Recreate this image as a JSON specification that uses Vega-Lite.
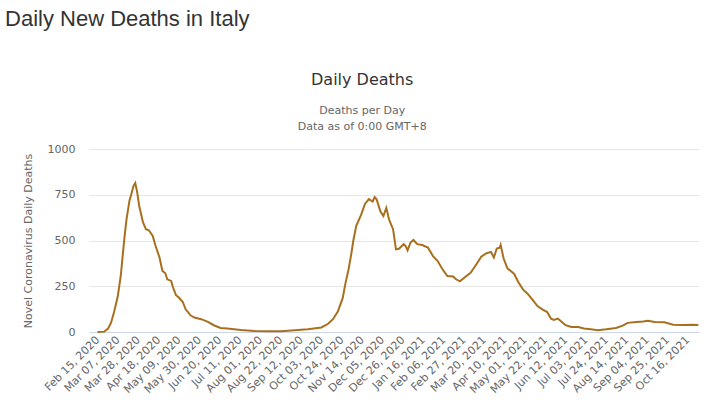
{
  "$schema": "https://vega.github.io/schema/vega-lite/v6.json",
  "background": "white",
  "padding": {"left": 5, "top": 8, "right": 20, "bottom": 5},
  "title": {"text": "Daily New Deaths in Italy", "anchor": "start", "frame": "bounds", "font": "Liberation Sans", "fontSize": 22, "fontWeight": "normal", "color": "#333333", "offset": 41, "dx": -17},
  "config": {"view": {"stroke": null}},
  "vconcat": [
    {
      "width": 610,
      "height": 183,
      "title": {"text": "Daily Deaths", "subtitle": ["Deaths per Day", "Data as of 0:00 GMT+8"], "anchor": "middle", "frame": "bounds", "font": "DejaVu Sans", "fontSize": 16, "fontWeight": "normal", "color": "#333333", "subtitleFont": "DejaVu Sans", "subtitleFontSize": 11, "subtitleColor": "#666666", "subtitlePadding": 17, "subtitleLineHeight": 16, "offset": 11},
      "data": {"values": [
        {"date": "2020-02-15", "deaths": 0},
        {"date": "2020-02-22", "deaths": 2},
        {"date": "2020-02-26", "deaths": 19},
        {"date": "2020-02-29", "deaths": 51},
        {"date": "2020-03-03", "deaths": 106},
        {"date": "2020-03-07", "deaths": 197},
        {"date": "2020-03-10", "deaths": 306},
        {"date": "2020-03-12", "deaths": 416},
        {"date": "2020-03-14", "deaths": 525},
        {"date": "2020-03-16", "deaths": 617},
        {"date": "2020-03-19", "deaths": 718},
        {"date": "2020-03-21", "deaths": 754},
        {"date": "2020-03-23", "deaths": 796},
        {"date": "2020-03-25", "deaths": 814},
        {"date": "2020-03-27", "deaths": 763},
        {"date": "2020-03-29", "deaths": 690},
        {"date": "2020-04-02", "deaths": 599},
        {"date": "2020-04-05", "deaths": 562},
        {"date": "2020-04-08", "deaths": 556},
        {"date": "2020-04-12", "deaths": 525},
        {"date": "2020-04-15", "deaths": 470},
        {"date": "2020-04-19", "deaths": 407},
        {"date": "2020-04-22", "deaths": 334},
        {"date": "2020-04-25", "deaths": 321},
        {"date": "2020-04-27", "deaths": 288},
        {"date": "2020-05-01", "deaths": 279},
        {"date": "2020-05-03", "deaths": 243},
        {"date": "2020-05-06", "deaths": 201},
        {"date": "2020-05-09", "deaths": 188},
        {"date": "2020-05-13", "deaths": 164},
        {"date": "2020-05-16", "deaths": 124},
        {"date": "2020-05-21", "deaths": 91},
        {"date": "2020-05-25", "deaths": 79},
        {"date": "2020-06-01", "deaths": 70},
        {"date": "2020-06-08", "deaths": 55},
        {"date": "2020-06-14", "deaths": 37},
        {"date": "2020-06-21", "deaths": 22},
        {"date": "2020-06-28", "deaths": 19},
        {"date": "2020-07-12", "deaths": 11},
        {"date": "2020-07-26", "deaths": 5},
        {"date": "2020-08-09", "deaths": 4},
        {"date": "2020-08-22", "deaths": 4},
        {"date": "2020-09-02", "deaths": 8},
        {"date": "2020-09-19", "deaths": 15},
        {"date": "2020-10-03", "deaths": 25},
        {"date": "2020-10-10", "deaths": 45},
        {"date": "2020-10-15", "deaths": 70},
        {"date": "2020-10-20", "deaths": 112},
        {"date": "2020-10-25", "deaths": 185},
        {"date": "2020-10-28", "deaths": 270},
        {"date": "2020-10-31", "deaths": 340},
        {"date": "2020-11-03", "deaths": 430},
        {"date": "2020-11-05", "deaths": 500},
        {"date": "2020-11-08", "deaths": 580},
        {"date": "2020-11-13", "deaths": 640},
        {"date": "2020-11-17", "deaths": 700},
        {"date": "2020-11-21", "deaths": 726},
        {"date": "2020-11-25", "deaths": 713},
        {"date": "2020-11-27", "deaths": 737},
        {"date": "2020-11-29", "deaths": 725},
        {"date": "2020-12-03", "deaths": 658},
        {"date": "2020-12-06", "deaths": 634},
        {"date": "2020-12-09", "deaths": 678},
        {"date": "2020-12-12", "deaths": 612},
        {"date": "2020-12-16", "deaths": 562},
        {"date": "2020-12-19", "deaths": 452},
        {"date": "2020-12-22", "deaths": 455},
        {"date": "2020-12-27", "deaths": 480},
        {"date": "2020-12-29", "deaths": 470},
        {"date": "2020-12-31", "deaths": 446},
        {"date": "2021-01-03", "deaths": 489},
        {"date": "2021-01-06", "deaths": 503},
        {"date": "2021-01-10", "deaths": 480},
        {"date": "2021-01-15", "deaths": 475},
        {"date": "2021-01-21", "deaths": 461},
        {"date": "2021-01-26", "deaths": 416},
        {"date": "2021-01-31", "deaths": 388},
        {"date": "2021-02-05", "deaths": 343},
        {"date": "2021-02-10", "deaths": 306},
        {"date": "2021-02-16", "deaths": 303},
        {"date": "2021-02-19", "deaths": 288},
        {"date": "2021-02-23", "deaths": 277},
        {"date": "2021-03-01", "deaths": 303},
        {"date": "2021-03-06", "deaths": 324},
        {"date": "2021-03-12", "deaths": 370},
        {"date": "2021-03-17", "deaths": 412},
        {"date": "2021-03-22", "deaths": 430},
        {"date": "2021-03-27", "deaths": 437},
        {"date": "2021-03-30", "deaths": 407},
        {"date": "2021-04-02", "deaths": 456},
        {"date": "2021-04-05", "deaths": 461},
        {"date": "2021-04-06", "deaths": 476},
        {"date": "2021-04-09", "deaths": 403},
        {"date": "2021-04-13", "deaths": 348},
        {"date": "2021-04-17", "deaths": 330},
        {"date": "2021-04-20", "deaths": 317},
        {"date": "2021-04-24", "deaths": 275},
        {"date": "2021-04-29", "deaths": 233},
        {"date": "2021-05-04", "deaths": 208},
        {"date": "2021-05-09", "deaths": 175},
        {"date": "2021-05-14", "deaths": 142},
        {"date": "2021-05-19", "deaths": 124},
        {"date": "2021-05-24", "deaths": 109},
        {"date": "2021-05-28", "deaths": 73},
        {"date": "2021-05-31", "deaths": 66},
        {"date": "2021-06-04", "deaths": 73},
        {"date": "2021-06-07", "deaths": 60},
        {"date": "2021-06-12", "deaths": 37},
        {"date": "2021-06-18", "deaths": 27},
        {"date": "2021-06-25", "deaths": 27},
        {"date": "2021-07-01", "deaths": 19},
        {"date": "2021-07-08", "deaths": 15},
        {"date": "2021-07-15", "deaths": 10},
        {"date": "2021-07-24", "deaths": 15},
        {"date": "2021-08-03", "deaths": 22},
        {"date": "2021-08-10", "deaths": 35},
        {"date": "2021-08-15", "deaths": 50},
        {"date": "2021-08-24", "deaths": 55},
        {"date": "2021-08-31", "deaths": 57},
        {"date": "2021-09-05", "deaths": 62},
        {"date": "2021-09-12", "deaths": 55},
        {"date": "2021-09-22", "deaths": 53},
        {"date": "2021-10-01", "deaths": 40},
        {"date": "2021-10-11", "deaths": 38},
        {"date": "2021-10-21", "deaths": 40},
        {"date": "2021-10-27", "deaths": 38}
      ]},
      "mark": {"type": "line", "color": "#a8701e", "strokeWidth": 2, "interpolate": "linear"},
      "encoding": {
        "x": {
          "field": "date", "type": "temporal",
          "scale": {"type": "utc", "domain": [{"year": 2020, "month": 2, "date": 6, "hours": 6, "utc": true}, {"year": 2021, "month": 10, "date": 27, "hours": 16, "utc": true}]},
          "axis": {
            "title": null, "grid": false, "ticks": false, "domain": true, "domainColor": "#ccd6eb",
            "values": [
              {"year": 2020, "month": 2, "date": 15, "utc": true}, {"year": 2020, "month": 3, "date": 7, "utc": true}, {"year": 2020, "month": 3, "date": 28, "utc": true},
              {"year": 2020, "month": 4, "date": 18, "utc": true}, {"year": 2020, "month": 5, "date": 9, "utc": true}, {"year": 2020, "month": 5, "date": 30, "utc": true},
              {"year": 2020, "month": 6, "date": 20, "utc": true}, {"year": 2020, "month": 7, "date": 11, "utc": true}, {"year": 2020, "month": 8, "date": 1, "utc": true},
              {"year": 2020, "month": 8, "date": 22, "utc": true}, {"year": 2020, "month": 9, "date": 12, "utc": true}, {"year": 2020, "month": 10, "date": 3, "utc": true},
              {"year": 2020, "month": 10, "date": 24, "utc": true}, {"year": 2020, "month": 11, "date": 14, "utc": true}, {"year": 2020, "month": 12, "date": 5, "utc": true},
              {"year": 2020, "month": 12, "date": 26, "utc": true}, {"year": 2021, "month": 1, "date": 16, "utc": true}, {"year": 2021, "month": 2, "date": 6, "utc": true},
              {"year": 2021, "month": 2, "date": 27, "utc": true}, {"year": 2021, "month": 3, "date": 20, "utc": true}, {"year": 2021, "month": 4, "date": 10, "utc": true},
              {"year": 2021, "month": 5, "date": 1, "utc": true}, {"year": 2021, "month": 5, "date": 22, "utc": true}, {"year": 2021, "month": 6, "date": 12, "utc": true},
              {"year": 2021, "month": 7, "date": 3, "utc": true}, {"year": 2021, "month": 7, "date": 24, "utc": true}, {"year": 2021, "month": 8, "date": 14, "utc": true},
              {"year": 2021, "month": 9, "date": 4, "utc": true}, {"year": 2021, "month": 9, "date": 25, "utc": true}, {"year": 2021, "month": 10, "date": 16, "utc": true}
            ],
            "labelExpr": "utcFormat(datum.value, '%b %d, %Y')",
            "labelAngle": -45, "labelAlign": "right", "labelBaseline": "middle",
            "labelFont": "DejaVu Sans", "labelFontSize": 11, "labelColor": "#666666", "labelPadding": 6,
            "labelOverlap": false, "labelBound": false, "labelFlush": false
          }
        },
        "y": {
          "field": "deaths", "type": "quantitative",
          "scale": {"domain": [0, 1000], "nice": false},
          "axis": {
            "values": [0, 250, 500, 750, 1000], "format": "d",
            "title": "Novel Coronavirus Daily Deaths", "titleFont": "DejaVu Sans", "titleFontSize": 11, "titleFontWeight": "normal", "titleColor": "#666666", "titlePadding": 14,
            "labelFont": "DejaVu Sans", "labelFontSize": 11, "labelColor": "#666666", "labelPadding": 14,
            "ticks": false, "domain": false, "gridColor": "#e6e6e6", "gridWidth": 1
          }
        }
      }
    }
  ]
}
